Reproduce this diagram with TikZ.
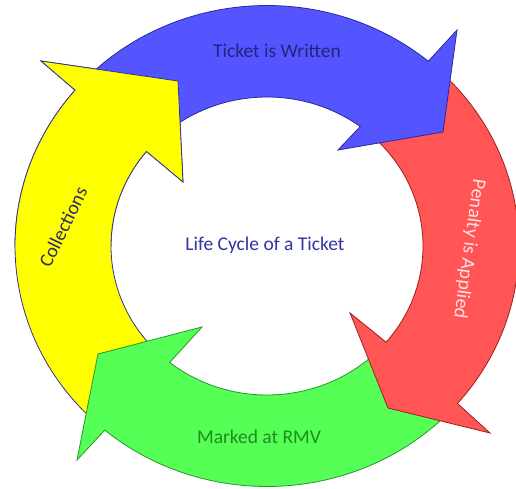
\documentclass[tikz,border=0pt]{standalone}
\usepackage{fontspec}
\setmainfont{Carlito}
\usetikzlibrary{calc}
\definecolor{bfill}{RGB}{85,85,255}
\definecolor{bline}{RGB}{40,40,160}
\definecolor{rfill}{RGB}{255,85,85}
\definecolor{rline}{RGB}{160,30,30}
\definecolor{gfill}{RGB}{85,255,85}
\definecolor{gline}{RGB}{40,150,40}
\definecolor{yfill}{RGB}{255,255,0}
\definecolor{yline}{RGB}{50,50,150}
\definecolor{tblue}{RGB}{35,35,130}
\definecolor{tcenter}{RGB}{50,50,160}
\definecolor{tcoll}{RGB}{45,45,95}
\definecolor{tred}{RGB}{255,225,225}
\definecolor{tgreen}{RGB}{30,140,30}
\begin{document}
\begin{tikzpicture}[x=1pt,y=1pt,
  arrowshape/.style={line width=0.8pt,line join=miter},
  bluearrow/.style={arrowshape,fill=bfill,draw=bline},
  redarrow/.style={arrowshape,fill=rfill,draw=rline},
  greenarrow/.style={arrowshape,fill=gfill,draw=gline},
  yellowarrow/.style={arrowshape,fill=yfill,draw=yline},
  lbl/.style={font=\fontsize{19.5}{22}\selectfont,inner sep=0pt,anchor=center}]
\useasboundingbox (0,0) rectangle (516,-489);
\coordinate (C) at (267,-246);
% yellow (Collections)
\def\yellowpath{($(C)+(228:252pt and 240.5pt)$) arc[start angle=228,end angle=139.6,x radius=252pt,y radius=240.5pt]
  -- (41,-61) -- (178,-81) -- (183,-182)
  -- ($(C)+(140.6:156pt and 149pt)$) arc[start angle=140.6,end angle=228,x radius=156pt,y radius=149pt] -- cycle}
\path[yellowarrow] \yellowpath;
% green (Marked at RMV)
\path[greenarrow] ($(C)+(-44:252pt and 240.5pt)$) arc[start angle=-44,end angle=-130.05,x radius=252pt,y radius=240.5pt]
  -- (77,-460) -- (98,-354) -- (202,-327)
  -- ($(C)+(-128.6:156pt and 149pt)$) arc[start angle=-128.6,end angle=-44,x radius=156pt,y radius=149pt] -- cycle;
% red (Penalty is Applied)
\path[redarrow] ($(C)+(47:252pt and 240.5pt)$) arc[start angle=47,end angle=-40.9,x radius=252pt,y radius=240.5pt]
  -- (490,-433) -- (388,-408) -- (350,-313)
  -- ($(C)+(-40.2:156pt and 149pt)$) arc[start angle=-40.2,end angle=47,x radius=156pt,y radius=149pt] -- cycle;
% blue (Ticket is Written)
\path[bluearrow] ($(C)+(135:252pt and 240.5pt)$) arc[start angle=135,end angle=50.2,x radius=252pt,y radius=240.5pt]
  -- (457,-30) -- (443,-132) -- (338,-150)
  -- ($(C)+(53.3:156pt and 149pt)$) arc[start angle=53.3,end angle=135,x radius=156pt,y radius=149pt] -- cycle;
% yellow head again, over the blue tail
\begin{scope}
  \clip (0,0) rectangle (266,-246);
  \path[yellowarrow] \yellowpath;
\end{scope}
% labels
\node[lbl,text=tblue] (written) at (277,-51) {Ticket is Written};
\node[lbl,text=tred,rotate=-98] (penalty) at (469,-249) {Penalty is Applied};
\node[lbl,text=tgreen] (marked) at (259,-437) {Marked at RMV};
\node[lbl,text=tcoll,rotate=64] (collections) at (63,-227) {Collections};
\node[lbl,text=tcenter] (centre) at (265,-245) {Life Cycle of a Ticket};
\end{tikzpicture}
\end{document}
